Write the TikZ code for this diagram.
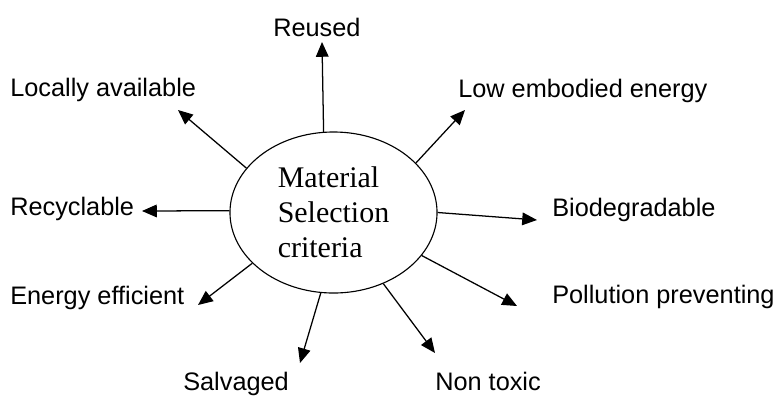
\documentclass[tikz,border=0pt]{standalone}
\usepackage{fontspec}
\setmainfont{Liberation Serif}
\setsansfont{Liberation Sans}
\usetikzlibrary{shapes.geometric,arrows.meta}

\begin{document}
\begin{tikzpicture}[x=0.025cm,y=0.025cm]
		\tikzstyle{every node}+=[inner sep=0pt]
		\tikzstyle{crit}=[draw, ellipse, line width=0.8pt, minimum width=5.175cm, minimum height=4.025cm, align=left, font=\fontsize{21.3}{24.8}\selectfont]
		\tikzstyle{lbl}=[anchor=base west, font=\sffamily\fontsize{18}{21}\selectfont]
		\tikzstyle{arr}=[-{Triangle[length=10.5pt,width=9pt]}, line width=0.9pt]
		\useasboundingbox (0,-396) rectangle (780,0);
		\node [crit] (crit) at (333.5,-212.5) {Material\\Selection\\criteria};
		\node [lbl] (reused) at (273,-36) {Reused};
		\node [lbl] (local) at (10,-96) {Locally available};
		\node [lbl] (low) at (458,-97) {Low embodied energy};
		\node [lbl] (recyc) at (10,-215) {Recyclable};
		\node [lbl] (biodeg) at (552,-216) {Biodegradable};
		\node [lbl] (energy) at (10,-304) {Energy efficient};
		\node [lbl] (pollut) at (552,-303) {Pollution preventing};
		\node [lbl] (salv) at (183,-390) {Salvaged};
		\node [lbl] (nontox) at (435,-390) {Non toxic};
		\coordinate (tReused) at (322,-42);
		\coordinate (tLocal) at (178,-110);
		\coordinate (tLow) at (465,-110);
		\coordinate (tRecyc) at (142,-211);
		\coordinate (tBiodeg) at (537,-220);
		\coordinate (tPollut) at (517,-306);
		\coordinate (tEnergy) at (198,-305);
		\coordinate (tSalv) at (300,-363);
		\coordinate (tNontox) at (435,-353);
		\draw [arr] (crit.97.9) -- (tReused);
		\draw [arr] (crit.153.3) -- (tLocal);
		\draw [arr] (crit.31.8) -- (tLow);
		\draw [arr] (crit.179.2) -- (tRecyc);
		\draw [arr] (crit.-0.8) -- (tBiodeg);
		\draw [arr] (crit.-26.7) -- (tPollut);
		\draw [arr] (crit.212.8) -- (tEnergy);
		\draw [arr] (crit.261.9) -- (tSalv);
		\draw [arr] (crit.305.5) -- (tNontox);
\end{tikzpicture}
\end{document}
